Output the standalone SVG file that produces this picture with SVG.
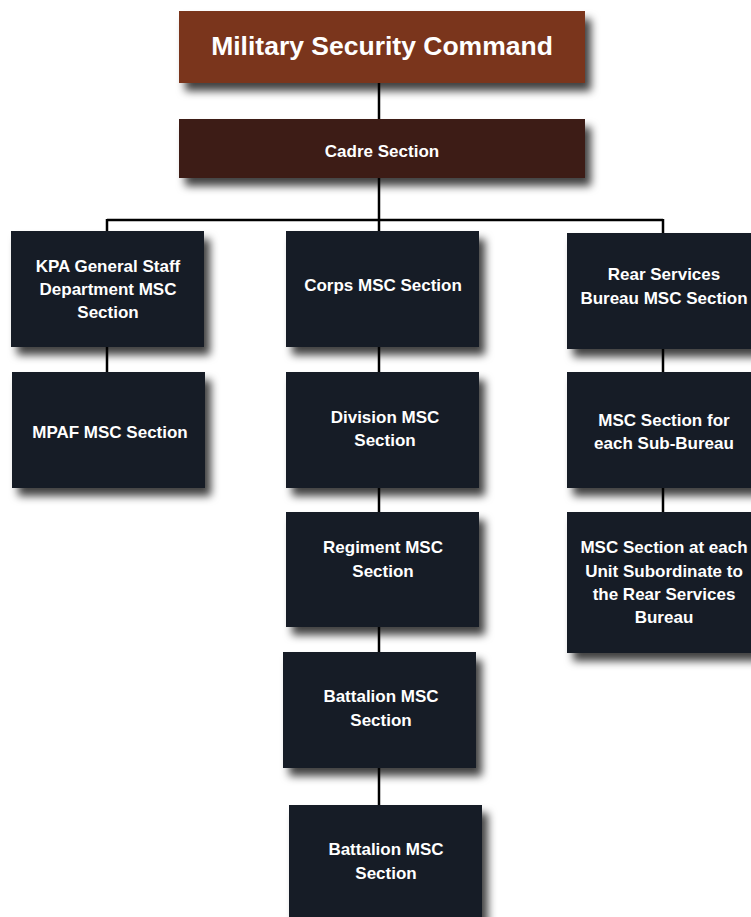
<svg xmlns="http://www.w3.org/2000/svg" width="751" height="917" viewBox="0 0 751 917">
<defs>
<filter id="sh" x="-10%" y="-10%" width="130%" height="140%">
<feDropShadow dx="6" dy="8" stdDeviation="4" flood-color="#000" flood-opacity="0.75"/>
</filter>
<style>
.box{fill:#171e25;filter:url(#sh)}
.t{font-family:"Liberation Sans",Arial,sans-serif;font-weight:bold;font-size:17px;fill:#ffffff;text-anchor:middle}
.c{stroke:#000;stroke-width:2.5;fill:none}
</style>
</defs>
<rect width="751" height="917" fill="#ffffff"/>
<g id="connectors">
<path class="c" d="M379 83V231M107 220H663M107 219V231M663 219V233M107 347V372M663 349V372M663 488V512M379 347V372M379 488V512M379 627V652M379 768V805"/>
</g>
<g id="msc">
<rect x="179" y="11" width="406" height="72" fill="#7a351a" filter="url(#sh)"/>
<text class="t" x="382" y="55" style="font-size:26.5px">Military Security Command</text>
</g>
<g id="cadre">
<rect x="179" y="119" width="406" height="59" fill="#3e1c13" filter="url(#sh)"/>
<text class="t" x="382" y="157">Cadre Section</text>
</g>
<g id="kpa">
<rect class="box" x="11" y="231" width="193" height="116"/>
<text class="t" x="108" y="272">KPA General Staff</text>
<text class="t" x="108" y="295">Department MSC</text>
<text class="t" x="108" y="318">Section</text>
</g>
<g id="mpaf">
<rect class="box" x="12" y="372" width="193" height="116"/>
<text class="t" x="110" y="438">MPAF MSC Section</text>
</g>
<g id="corps">
<rect class="box" x="286" y="231" width="193" height="116"/>
<text class="t" x="383" y="291">Corps MSC Section</text>
</g>
<g id="division">
<rect class="box" x="286" y="372" width="193" height="116"/>
<text class="t" x="385" y="423">Division MSC</text>
<text class="t" x="385" y="446">Section</text>
</g>
<g id="regiment">
<rect class="box" x="286" y="512" width="193" height="115"/>
<text class="t" x="383" y="553">Regiment MSC</text>
<text class="t" x="383" y="577">Section</text>
</g>
<g id="battalion1">
<rect class="box" x="283" y="652" width="193" height="116"/>
<text class="t" x="381" y="702">Battalion MSC</text>
<text class="t" x="381" y="726">Section</text>
</g>
<g id="battalion2">
<rect class="box" x="289" y="805" width="193" height="125"/>
<text class="t" x="386" y="855">Battalion MSC</text>
<text class="t" x="386" y="879">Section</text>
</g>
<g id="rear">
<rect class="box" x="567" y="233" width="195" height="116"/>
<text class="t" x="664" y="280">Rear Services</text>
<text class="t" x="664" y="304">Bureau MSC Section</text>
</g>
<g id="subbureau">
<rect class="box" x="567" y="372" width="195" height="116"/>
<text class="t" x="664" y="426">MSC Section for</text>
<text class="t" x="664" y="449">each Sub-Bureau</text>
</g>
<g id="unit">
<rect class="box" x="567" y="512" width="195" height="141"/>
<text class="t" x="664" y="553">MSC Section at each</text>
<text class="t" x="664" y="577">Unit Subordinate to</text>
<text class="t" x="664" y="600">the Rear Services</text>
<text class="t" x="664" y="623">Bureau</text>
</g>
</svg>
